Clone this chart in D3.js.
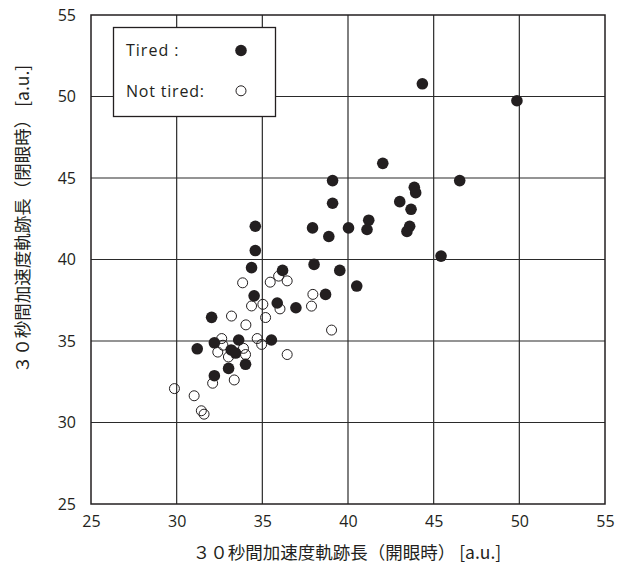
<!DOCTYPE html>
<html>
<head>
<meta charset="utf-8">
<script src="https://cdn.jsdelivr.net/npm/d3@7"></script>
<style>
  body { margin: 0; background: #fff; }
  svg { display: block; }
  text { font-family: "Open Sans", "Noto Sans", sans-serif; fill: #231f20; }
  .cjk { font-family: "Noto Sans CJK JP", "Noto Sans", sans-serif; }
</style>
</head>
<body>
<svg id="chart" width="624" height="567"></svg>
<script>
const xTicks = [25, 30, 35, 40, 45, 50, 55];
const yTicks = [25, 30, 35, 40, 45, 50, 55];
const xTitle = "３０秒間加速度軌跡長（開眼時） [a.u.]";
const yTitle = "３０秒間加速度軌跡長（閉眼時） [a.u.]";
const legendLabels = ["Tired :", "Not tired:"];

// Tired (filled) : x = eyes open, y = eyes closed
const tiredX = [44.34, 49.86, 42.03, 46.52, 39.10, 43.87, 43.95, 43.02, 39.10, 43.68,
                41.21, 43.60, 34.59, 37.93, 40.03, 41.11, 43.44, 38.88, 34.59, 45.43,
                38.02, 34.37, 36.18, 39.52, 40.51, 38.69, 34.52, 35.87, 36.96, 32.04,
                33.62, 35.53, 32.20, 31.20, 33.18, 33.44, 34.02, 33.03, 32.20];
const tiredY = [50.78, 49.74, 45.90, 44.84, 44.84, 44.43, 44.10, 43.55, 43.45, 43.08,
                42.41, 42.04, 42.04, 41.94, 41.94, 41.84, 41.72, 41.41, 40.55, 40.21,
                39.70, 39.50, 39.33, 39.33, 38.37, 37.86, 37.77, 37.33, 37.04, 36.45,
                35.06, 35.06, 34.89, 34.52, 34.45, 34.26, 33.57, 33.32, 32.87];

// Not tired (open)
const notTiredX = [33.85, 35.46, 35.95, 36.45, 37.95, 37.87, 34.37, 35.03, 36.03, 35.19,
                   33.20, 34.04, 39.04, 32.63, 34.70, 34.96, 32.70, 33.90, 32.40, 34.02,
                   36.45, 33.02, 33.36, 32.10, 29.87, 31.02, 31.44, 31.60];
const notTiredY = [38.57, 38.61, 38.98, 38.69, 37.86, 37.14, 37.15, 37.25, 36.97, 36.44,
                   36.53, 35.99, 35.67, 35.15, 35.15, 34.79, 34.74, 34.55, 34.32, 34.17,
                   34.17, 34.02, 32.61, 32.41, 32.08, 31.64, 30.72, 30.51];

(function () {
const svg = d3.select("#chart");
const pL = 91, pT = 15, pR = 605, pB = 504;

const x = d3.scaleLinear().domain([25, 55]).range([pL, pR]);
const y = d3.scaleLinear().domain([25, 55]).range([pB, pT]);

// grid
const grid = svg.append("g");
grid.selectAll("line.vx").data(xTicks.slice(1, -1)).enter().append("line")
  .attr("x1", d => x(d)).attr("x2", d => x(d))
  .attr("y1", pT).attr("y2", pB)
  .attr("stroke", "#2a2a2a").attr("stroke-width", 1.2);
grid.selectAll("line.hy").data(yTicks.slice(1, -1)).enter().append("line")
  .attr("x1", pL).attr("x2", pR)
  .attr("y1", d => y(d)).attr("y2", d => y(d))
  .attr("stroke", "#2a2a2a").attr("stroke-width", 1.2);

// frame
svg.append("rect").attr("x", pL).attr("y", pT)
  .attr("width", pR - pL).attr("height", pB - pT)
  .attr("fill", "none").attr("stroke", "#231f20").attr("stroke-width", 1.5);

// axes (labels only)
const xAxis = d3.axisBottom(x).tickValues(xTicks).tickSize(0).tickPadding(12);
const gx = svg.append("g").attr("transform", `translate(0,${pB})`).call(xAxis);
gx.select(".domain").remove();
gx.selectAll("text").attr("font-size", 16).attr("font-family", "Open Sans").attr("fill", "#231f20");

const yAxis = d3.axisLeft(y).tickValues(yTicks).tickSize(0).tickPadding(15);
const gy = svg.append("g").attr("transform", `translate(${pL},0)`).call(yAxis);
gy.select(".domain").remove();
gy.selectAll("text").attr("font-size", 16).attr("font-family", "Open Sans").attr("fill", "#231f20");

// points
const tired = tiredX.map((v, i) => ({x: v, y: tiredY[i]}));
const notTired = notTiredX.map((v, i) => ({x: v, y: notTiredY[i]}));

svg.append("g").selectAll("circle").data(notTired).enter().append("circle")
  .attr("cx", d => x(d.x)).attr("cy", d => y(d.y)).attr("r", 5)
  .attr("fill", "none").attr("stroke", "#231f20").attr("stroke-width", 1);

svg.append("g").selectAll("circle").data(tired).enter().append("circle")
  .attr("cx", d => x(d.x)).attr("cy", d => y(d.y)).attr("r", 5.8)
  .attr("fill", "#231f20");

// legend
const lg = svg.append("g");
lg.append("rect").attr("x", 113.5).attr("y", 27.5).attr("width", 162).attr("height", 89)
  .attr("fill", "#fff").attr("stroke", "#231f20").attr("stroke-width", 1.3);
lg.append("text").attr("x", 126).attr("y", 56).attr("font-size", 16)
  .attr("letter-spacing", 1).text(legendLabels[0]);
lg.append("text").attr("x", 126).attr("y", 97).attr("font-size", 16)
  .attr("letter-spacing", 0.8).text(legendLabels[1]);
lg.append("circle").attr("cx", 241).attr("cy", 50.5).attr("r", 5.8).attr("fill", "#231f20");
lg.append("circle").attr("cx", 241).attr("cy", 90.8).attr("r", 5)
  .attr("fill", "none").attr("stroke", "#231f20").attr("stroke-width", 1);

// titles
svg.append("text").attr("class", "cjk")
  .attr("x", 347).attr("y", 559)
  .attr("text-anchor", "middle").attr("font-size", 17.5).text(xTitle);
svg.append("text").attr("class", "cjk")
  .attr("transform", "translate(29,219) rotate(-90)")
  .attr("text-anchor", "middle").attr("font-size", 17.5).text(yTitle);
})();
</script>
</body>
</html>
